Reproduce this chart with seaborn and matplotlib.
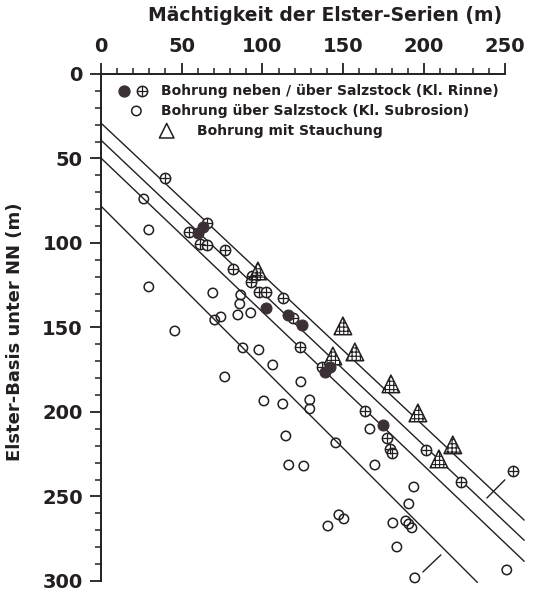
import numpy as np
import pandas as pd
import seaborn as sns
import matplotlib.pyplot as plt
from matplotlib.ticker import MultipleLocator

# =============================================================================
# Data: thickness (m) vs. depth of Elster base (m below NN)
# =============================================================================

# Bohrung neben Salzstock (filled circles)
neben_x = [60.0, 63.1, 102.1, 115.7, 124.4, 141.7, 138.6, 174.5]
neben_y = [94.1, 90.5, 138.5, 142.6, 148.5, 173.4, 176.3, 207.7]

# Bohrung über Salzstock, Kl. Rinne (crossed circles)
rinne_x = [39.6, 54.5, 65.6, 61.3, 65.6, 76.7, 81.7, 93.4, 96.5, 92.8, 97.8, 102.1,
           112.6, 118.8, 123.1, 136.8, 163.4, 177.0, 178.8, 180.1, 201.1, 222.8, 255.0]
rinne_y = [61.5, 93.5, 88.2, 100.6, 101.2, 104.1, 115.4, 119.5, 118.9, 123.1, 129.0, 129.0,
           132.5, 144.4, 161.5, 173.4, 199.4, 215.4, 221.9, 224.3, 222.5, 241.4, 234.9]

# Bohrung über Salzstock, Kl. Subrosion (open circles)
subrosion_x = [26.6, 29.7, 29.7, 45.8, 69.3, 86.6, 86.0, 84.8, 92.8, 70.5, 74.3, 76.7,
               87.9, 97.8, 106.4, 123.8, 100.9, 112.6, 129.3, 129.3, 114.5, 166.5, 116.3,
               125.6, 169.6, 193.7, 190.6, 140.5, 147.3, 150.4, 180.7, 188.7, 190.6, 192.5,
               183.2, 251.2, 194.3, 145.4]
subrosion_y = [74.0, 92.3, 126.0, 152.1, 129.6, 130.8, 136.1, 142.6, 141.4, 145.6, 143.8, 179.3,
               162.1, 163.3, 172.2, 182.2, 193.5, 195.3, 192.9, 198.2, 214.2, 210.1, 231.4,
               232.0, 231.4, 244.4, 254.4, 267.5, 260.9, 263.3, 265.7, 264.5, 266.3, 268.6,
               279.9, 293.5, 298.2, 218.3]

# Bohrung mit Stauchung (hatched triangles)
stauchung_x = [97.2, 149.8, 157.2, 143.6, 179.5, 196.2, 217.8, 209.2]
stauchung_y = [116.6, 149.1, 164.5, 166.9, 183.4, 200.6, 219.5, 227.8]

# straight reference lines: intercept, slope, last x
line_intercept = [29.0, 39.1, 49.7, 78.1]
line_slope = [0.897, 0.904, 0.911, 0.956]
line_xmax = [262, 262, 262, 233]

# small leader strokes (x0, y0, x1, y1)
leaders = [(238.9, 250.9, 250.0, 240.2), (199.3, 294.7, 210.4, 284.6)]

x_ticks = [0, 50, 100, 150, 200, 250]
y_ticks = [0, 50, 100, 150, 200, 250, 300]

ink = '#231f20'
dark = '#3b3035'

# =============================================================================
# Figure
# =============================================================================

sns.set_theme(style="ticks")
plt.rcParams['font.family'] = ['DejaVu Sans']
plt.rcParams['font.weight'] = 'bold'
plt.rcParams['hatch.linewidth'] = 0.8

fig = plt.figure(figsize=(5.45, 5.91), dpi=100)
ax = fig.add_axes([0.185, 0.017, 0.7413, 0.8579])

for b, m, xm in zip(line_intercept, line_slope, line_xmax):
    xs = np.array([0, xm])
    ax.plot(xs, b + m * xs, color=ink, lw=1.0, clip_on=False, zorder=1)

for x0, y0, x1, y1 in leaders:
    ax.plot([x0, x1], [y0, y1], color=ink, lw=1.0, clip_on=False, zorder=1)

sns.scatterplot(x=subrosion_x, y=subrosion_y, marker='o', s=46, color=ink,
                facecolor='none', edgecolor=ink, linewidth=1.1, ax=ax,
                clip_on=False, zorder=3)

sns.scatterplot(x=rinne_x, y=rinne_y, marker='o', s=55, color=ink,
                facecolor='white', edgecolor=ink, linewidth=1.1, ax=ax,
                clip_on=False, zorder=4)
ax.scatter(rinne_x, rinne_y, marker='+', s=55, color=ink, linewidth=0.9,
           clip_on=False, zorder=5)

sns.scatterplot(x=neben_x, y=neben_y, marker='o', s=62, color=dark,
                edgecolor=dark, linewidth=0.8, ax=ax, clip_on=False, zorder=6)

sns.scatterplot(x=stauchung_x, y=stauchung_y, marker='^', s=160, color=ink,
                facecolor='white', edgecolor=ink, linewidth=1.1, hatch='++++',
                ax=ax, clip_on=False, zorder=4)

# legend drawn inside the frame
tr = ax.transAxes
leg_kw = dict(transform=tr, clip_on=False, zorder=7)
ax.scatter([0.057], [0.966], marker='o', s=62, color=dark, **leg_kw)
ax.scatter([0.103], [0.966], marker='o', s=55, facecolor='white', edgecolor=ink,
           linewidth=1.1, **leg_kw)
ax.scatter([0.103], [0.966], marker='+', s=55, color=ink, linewidth=0.9, **leg_kw)
ax.scatter([0.088], [0.927], marker='o', s=46, facecolor='none', edgecolor=ink,
           linewidth=1.1, **leg_kw)
ax.scatter([0.163], [0.888], marker='^', s=110, facecolor='none', edgecolor=ink,
           linewidth=1.1, **leg_kw)
txt_kw = dict(transform=tr, fontsize=10, fontweight='bold', color=ink, va='center')
ax.text(0.150, 0.966, 'Bohrung neben / über Salzstock (Kl. Rinne)', **txt_kw)
ax.text(0.150, 0.927, 'Bohrung über Salzstock (Kl. Subrosion)', **txt_kw)
ax.text(0.238, 0.888, 'Bohrung mit Stauchung', **txt_kw)

# axes styling
ax.set_xlim(0, 250)
ax.set_ylim(300, 0)
ax.xaxis.tick_top()
ax.xaxis.set_label_position('top')
ax.set_xticks(x_ticks)
ax.set_yticks(y_ticks)
ax.xaxis.set_minor_locator(MultipleLocator(10))
ax.yaxis.set_minor_locator(MultipleLocator(10))
ax.tick_params(which='major', length=8, width=1.3, color=ink, labelsize=14,
               labelcolor=ink, pad=5)
ax.tick_params(which='minor', length=4, width=1.1, color=ink)
for lab in ax.get_xticklabels() + ax.get_yticklabels():
    lab.set_fontweight('bold')

ax.spines['right'].set_visible(False)
ax.spines['bottom'].set_visible(False)
ax.spines['top'].set_linewidth(1.4)
ax.spines['left'].set_linewidth(1.4)
ax.spines['top'].set_color(ink)
ax.spines['left'].set_color(ink)

ax.set_xlabel('Mächtigkeit der Elster-Serien (m)', fontsize=13.5, fontweight='bold', color=ink)
ax.xaxis.set_label_coords(0.554, 1.116)
ax.xaxis.label.set_va('center')
ax.set_ylabel('Elster-Basis unter NN (m)', fontsize=13, fontweight='bold', color=ink)
ax.yaxis.set_label_coords(-0.213, 0.491)
ax.yaxis.label.set_va('center')

fig.savefig('out.png', dpi=100)
